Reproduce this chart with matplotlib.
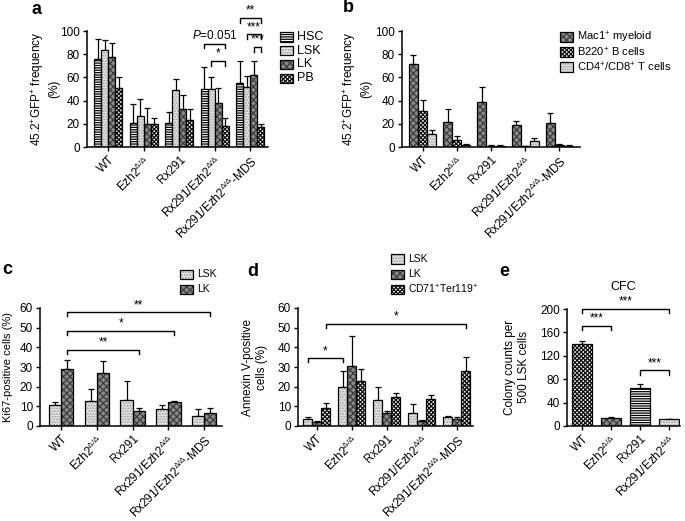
import matplotlib
matplotlib.use("Agg")
import matplotlib.pyplot as plt
from matplotlib.patches import Rectangle
import numpy as np

plt.rcParams['font.family'] = ['Liberation Sans', 'DejaVu Sans']
plt.rcParams['mathtext.fontset'] = 'custom'
plt.rcParams['mathtext.rm'] = 'Liberation Sans'
plt.rcParams['mathtext.it'] = 'Liberation Sans:italic'
plt.rcParams['mathtext.default'] = 'regular'
plt.rcParams['hatch.linewidth'] = 0.9

W, H = 685, 521
fig = plt.figure(figsize=(W / 100, H / 100), dpi=100)

# ---------------- data ----------------
groups5 = ['WT', r'Ezh2$^{\Delta/\Delta}$', 'Rx291', r'Rx291/Ezh2$^{\Delta/\Delta}$',
           r'Rx291/Ezh2$^{\Delta/\Delta}$-MDS']
groups4 = ['WT', r'Ezh2$^{\Delta/\Delta}$', 'Rx291', r'Rx291/Ezh2$^{\Delta/\Delta}$']

# panel a
a_series = ['HSC', 'LSK', 'LK', 'PB']
a_hsc = [76, 21, 21, 50, 55]
a_hsc_sd = [17, 16, 9, 19, 19]
a_lsk = [84, 27, 49, 50, 52]
a_lsk_sd = [8, 14, 10, 10, 9]
a_lk = [78, 20, 33, 38, 62]
a_lk_sd = [12, 14, 12, 13, 12]
a_pb = [51, 20, 23, 18, 17]
a_pb_sd = [9, 5, 10, 7, 3]

# panel b
b_series = [r'Mac1$^{+}$ myeloid', r'B220$^{+}$ B cells', r'CD4$^{+}$/CD8$^{+}$ T cells']
b_mac = [71.5, 21.5, 39, 19, 21]
b_mac_sd = [7.5, 11.5, 13, 3, 8]
b_b220 = [31, 6, 1, 0.5, 2]
b_b220_sd = [9.5, 3.5, 0.5, 0.2, 0.3]
b_t = [11, 2, 1, 5, 1]
b_t_sd = [4, 0.8, 0.4, 2.5, 0.3]

# panel c
c_series = ['LSK', 'LK']
c_lsk = [10.8, 12.7, 13, 8.8, 5]
c_lsk_sd = [1.4, 6.3, 10.1, 1.7, 3.6]
c_lk = [29, 27.2, 7.6, 12.3, 6.8]
c_lk_sd = [4.8, 5.6, 1.7, 0.5, 2.5]

# panel d
d_series = ['LSK', 'LK', r'CD71$^{+}$Ter119$^{+}$']
d_lsk = [3.5, 20, 13, 6.5, 4.5]
d_lsk_sd = [1.3, 8, 7, 4.5, 0.6]
d_lk = [2, 30.5, 6.5, 2.5, 3.5]
d_lk_sd = [0.5, 15.5, 1, 0.5, 1]
d_cd71 = [9, 23, 14.5, 13.5, 28]
d_cd71_sd = [2.5, 6, 2.5, 2.5, 7]

# panel e
e_cfc = [140, 14, 65, 11.5]
e_cfc_sd = [5, 1.5, 6, 1]

# ---------------- styles ----------------
STY = {
    'lines': dict(face='white', hatch='-------', hc='black'),
    'light': dict(face='#e4e4e4', hatch='......', hc='#9c9c9c'),
    'dark': dict(face='#8a8a8a', hatch='xxxxx', hc='#3c3c3c'),
    'checker': dict(face='#f4f4f4', hatch='xxxxxxxx', hc='#111111'),
}
FS = 8.5


def px_axes(l, t, r, b):
    return fig.add_axes([l / W, 1 - b / H, (r - l) / W, (b - t) / H])


def style_axes(ax, xlim, ylim, yticks, labels):
    ax.set_xlim(*xlim)
    ax.set_ylim(*ylim)
    ax.spines['top'].set_visible(False)
    ax.spines['right'].set_visible(False)
    for s in ('left', 'bottom'):
        ax.spines[s].set_linewidth(1.1)
    ax.set_yticks(yticks)
    ax.set_xticks(range(len(labels)))
    ax.set_xticklabels(labels, rotation=45, ha='right', va='top',
                       rotation_mode='anchor', fontsize=FS)
    ax.tick_params(axis='both', direction='out', length=3, width=1.0,
                   labelsize=FS, pad=2)
    ax.patch.set_alpha(0)


def bars(ax, x, h, sd, width, style):
    s = STY[style]
    ax.bar(x, h, width, color=s['face'], edgecolor=s['hc'], hatch=s['hatch'],
           linewidth=0, zorder=2)
    ax.bar(x, h, width, fill=False, edgecolor='black', linewidth=0.9, zorder=3)
    ax.errorbar(x, h, yerr=[np.zeros(len(sd)), sd], fmt='none', ecolor='black',
                elinewidth=0.9, capsize=2.4, capthick=0.9, zorder=1)


def bracket(ax, x1, x2, y, drop, text, fs=8.5):
    ax.plot([x1, x1, x2, x2], [y - drop, y, y, y - drop], color='black',
            lw=1.0, clip_on=False, zorder=4)
    ax.text((x1 + x2) / 2, y + drop * 0.3, text, ha='center', va='bottom',
            fontsize=fs, clip_on=False)


def legend_entry(x, y, style, text, fs=FS):
    s = STY[style]
    w, h = 13, 9
    r1 = Rectangle((x / W, 1 - (y + h / 2) / H), w / W, h / H, transform=fig.transFigure,
                   facecolor=s['face'], edgecolor=s['hc'], hatch=s['hatch'], linewidth=0)
    r2 = Rectangle((x / W, 1 - (y + h / 2) / H), w / W, h / H, transform=fig.transFigure,
                   fill=False, edgecolor='black', linewidth=0.9)
    fig.add_artist(r1)
    fig.add_artist(r2)
    fig.text((x + w + 4) / W, 1 - y / H, text, ha='left', va='center', fontsize=fs)


def ylabel(x, y, text, fs=8.5):
    fig.text(x / W, 1 - y / H, text, rotation=90, ha='center', va='center',
             fontsize=fs, multialignment='center')


def panel_label(x, y, t):
    fig.text(x / W, 1 - y / H, t, ha='left', va='center', fontsize=13, fontweight='bold')


# ---------------- panel a ----------------
ax = px_axes(87, 31, 268, 147)
xa = np.arange(5)
wa = 0.2
a_vals = [(a_hsc, a_hsc_sd, 'lines'), (a_lsk, a_lsk_sd, 'light'),
          (a_lk, a_lk_sd, 'dark'), (a_pb, a_pb_sd, 'checker')]
offs_a = [-0.3, -0.1, 0.1, 0.3]
for (v, sd, st), o in zip(a_vals, offs_a):
    bars(ax, xa + o, v, sd, wa, st)
style_axes(ax, (-0.6, 4.5), (0, 100), range(0, 101, 20), groups5)
bracket(ax, 3 + offs_a[0], 3 + offs_a[3], 89, 4, r'$\mathit{P}$=0.051', fs=8.5)
bracket(ax, 3 + offs_a[1], 3 + offs_a[3], 74, 4, '*')
bracket(ax, 4 + offs_a[0], 4 + offs_a[3], 111, 4, '**')
bracket(ax, 4 + offs_a[1], 4 + offs_a[3], 97, 4, '***')
bracket(ax, 4 + offs_a[2], 4 + offs_a[3], 86, 4, '***')
ylabel(45, 89, '45.2$^{+}$GFP$^{+}$ frequency\n(%)')
panel_label(32, 9, 'a')
for i, (name, st) in enumerate(zip(a_series, ['lines', 'light', 'dark', 'checker'])):
    legend_entry(280, 37 + i * 13.7, st, name, fs=9)

# ---------------- panel b ----------------
ax = px_axes(402, 31, 580, 147)
wb = 0.267
b_vals = [(b_mac, b_mac_sd, 'dark'), (b_b220, b_b220_sd, 'checker'), (b_t, b_t_sd, 'light')]
offs_b = [-wb, 0, wb]
for (v, sd, st), o in zip(b_vals, offs_b):
    bars(ax, xa + o, v, sd, wb, st)
style_axes(ax, (-0.6, 4.6), (0, 100), range(0, 101, 20), groups5)
ylabel(357, 89, '45.2$^{+}$GFP$^{+}$ frequency\n(%)')
panel_label(343, 8, 'b')
for i, (name, st) in enumerate(zip(b_series, ['dark', 'checker', 'light'])):
    legend_entry(560, 37 + i * 15, st, name, fs=8)

# ---------------- panel c ----------------
ax = px_axes(40, 308, 222, 426)
wc = 0.34
offs_c = [-0.17, 0.17]
for (v, sd, st), o in zip([(c_lsk, c_lsk_sd, 'light'), (c_lk, c_lk_sd, 'dark')], offs_c):
    bars(ax, xa + o, v, sd, wc, st)
style_axes(ax, (-0.59, 4.5), (0, 60), range(0, 61, 10), groups5)
bracket(ax, 0 + offs_c[1], 4 + offs_c[1], 57.8, 2, '**')
bracket(ax, 0 + offs_c[1], 3 + offs_c[1], 48.5, 2, '*')
bracket(ax, 0 + offs_c[1], 2 + offs_c[1], 38.7, 2, '**')
ylabel(8, 367, 'Ki67-positive cells (%)', fs=8)
panel_label(2, 270, 'c')
for i, (name, st) in enumerate(zip(c_series, ['light', 'dark'])):
    legend_entry(180, 274 + i * 15, st, name, fs=7.5)

# ---------------- panel d ----------------
ax = px_axes(298, 308, 473, 426)
wd = 0.257
offs_d = [-wd, 0, wd]
d_vals = [(d_lsk, d_lsk_sd, 'light'), (d_lk, d_lk_sd, 'dark'), (d_cd71, d_cd71_sd, 'checker')]
for (v, sd, st), o in zip(d_vals, offs_d):
    bars(ax, xa + o, v, sd, wd, st)
style_axes(ax, (-0.54, 4.46), (0, 60), range(0, 61, 10), groups5)
bracket(ax, 0 + offs_d[0], 1 + offs_d[0], 34.5, 2, '*')
bracket(ax, 0 + offs_d[2], 4 + offs_d[2], 52, 2, '*')
ylabel(255, 367, 'Annexin V-positive\ncells (%)')
panel_label(247, 272, 'd')
for i, (name, st) in enumerate(zip(d_series, ['light', 'dark', 'checker'])):
    legend_entry(391, 259 + i * 15, st, name, fs=7.5)

# ---------------- panel e ----------------
ax = px_axes(567, 309, 680, 426)
xe = np.arange(4)
we = 0.7
s_e = ['checker', 'dark', 'lines', 'light']
for i in range(4):
    bars(ax, [xe[i]], [e_cfc[i]], [e_cfc_sd[i]], we, s_e[i])
style_axes(ax, (-0.52, 3.38), (0, 200), range(0, 201, 40), groups4)
bracket(ax, 0, 3, 200, 7, '***')
bracket(ax, 0, 1, 171, 7, '***')
bracket(ax, 2, 3, 95, 7, '***')
ax.set_title('CFC', fontsize=9, pad=14)
ylabel(517, 367, 'Colony counts per\n500 LSK cells')
panel_label(499, 272, 'e')

fig.savefig('out.png', dpi=100)
